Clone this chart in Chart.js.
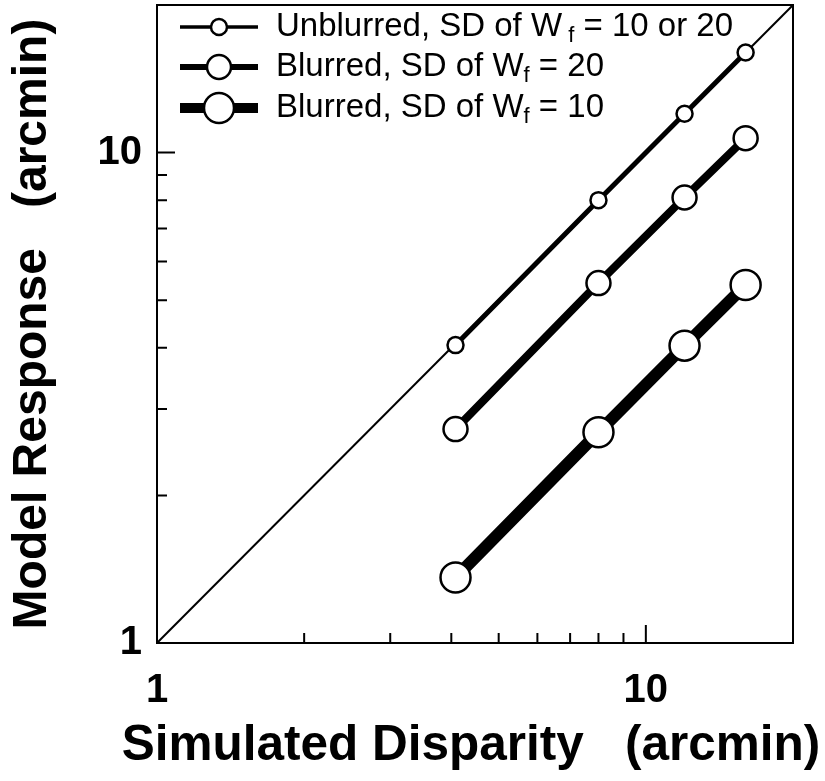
<!DOCTYPE html>
<html><head><meta charset="utf-8">
<script src="https://cdn.jsdelivr.net/npm/chart.js@4"></script>
<style>html,body{margin:0;padding:0;background:#fff}#wrap{width:825px;height:781px}</style>
</head><body><div id="wrap"><canvas id="c" width="825" height="781"></canvas></div>
<script>
// ---- data ----
const disparity = [4.08, 8, 12, 16];
const unblurred = [4.05, 8, 12, 16];
const blurred20 = [2.73, 5.42, 8.1, 10.7];
const blurred10 = [1.36, 2.69, 4.04, 5.37];
const identityX = [1, 20];
const identityY = [1, 20];
const tickLabelValues = [1, 10];
const minorTickValues = [2, 3, 4, 5, 6, 7, 8, 9];
const majorTickValues = [10];
const legendParts = [
  ['Unblurred, SD of W', ' f', ' = 10 or 20'],
  ['Blurred, SD of W', 'f', ' = 20'],
  ['Blurred, SD of W', 'f', ' = 10']
];
const xTitle = 'Simulated Disparity   (arcmin)';
const yTitle = 'Model Response   (arcmin)';

const pts = (xs, ys) => xs.map((x, i) => ({x: x, y: ys[i]}));

const FONT = '"Liberation Sans", Arial, Helvetica, sans-serif';

const boxTicksLegend = {
  id: 'boxTicksLegend',
  afterDatasetsDraw(chart) {
    const ctx = chart.ctx, a = chart.chartArea;
    const xs = chart.scales.x, ys = chart.scales.y;
    ctx.save();
    ctx.strokeStyle = '#000';
    ctx.lineWidth = 2;
    ctx.strokeRect(a.left, a.top, a.right - a.left, a.bottom - a.top);
    ctx.beginPath();
    const tick = (v, len) => {
      const px = xs.getPixelForValue(v);
      ctx.moveTo(px, a.bottom); ctx.lineTo(px, a.bottom - len);
      const py = ys.getPixelForValue(v);
      ctx.moveTo(a.left, py); ctx.lineTo(a.left + len, py);
    };
    minorTickValues.forEach(v => tick(v, 10));
    majorTickValues.forEach(v => tick(v, 18));
    ctx.stroke();

    // legend
    const rowY = [27, 67, 108];
    const legendLineW = [3.5, 6, 10];
    const ds = chart.data.datasets.slice(0, 3);
    ds.forEach((d, i) => {
      const y = rowY[i];
      ctx.beginPath();
      ctx.lineWidth = legendLineW[i];
      ctx.moveTo(180, y); ctx.lineTo(258, y);
      ctx.stroke();
      ctx.beginPath();
      ctx.arc(219, y, d.pointRadius, 0, Math.PI * 2);
      ctx.fillStyle = '#fff';
      ctx.fill();
      ctx.lineWidth = d.pointBorderWidth;
      ctx.stroke();
      const p = legendParts[i];
      ctx.fillStyle = '#000';
      ctx.textBaseline = 'middle';
      ctx.textAlign = 'left';
      ctx.font = '33px ' + FONT;
      let x = 276;
      ctx.fillText(p[0], x, y);
      x += ctx.measureText(p[0]).width;
      ctx.font = '22px ' + FONT;
      ctx.fillText(p[1], x, y + 9);
      x += ctx.measureText(p[1]).width;
      ctx.font = '33px ' + FONT;
      ctx.fillText(p[2], x, y);
    });

    // x axis title (drawn here so it is not squeezed to the plot width)
    ctx.font = 'bold 49.5px ' + FONT;
    ctx.fillStyle = '#000';
    ctx.textAlign = 'center';
    ctx.textBaseline = 'middle';
    ctx.fillText(xTitle, 471, 746);
    ctx.restore();
  }
};

new Chart(document.getElementById('c'), {
  type: 'scatter',
  data: {
    datasets: [
      {label: 'Unblurred', data: pts(disparity, unblurred), showLine: true,
       borderColor: '#000', borderWidth: 5, pointRadius: 8, pointBorderWidth: 2.5,
       pointBackgroundColor: '#fff', pointBorderColor: '#000'},
      {label: 'Blurred 20', data: pts(disparity, blurred20), showLine: true,
       borderColor: '#000', borderWidth: 8, pointRadius: 12, pointBorderWidth: 2.5,
       pointBackgroundColor: '#fff', pointBorderColor: '#000'},
      {label: 'Blurred 10', data: pts(disparity, blurred10), showLine: true,
       borderColor: '#000', borderWidth: 12, pointRadius: 15, pointBorderWidth: 2.5,
       pointBackgroundColor: '#fff', pointBorderColor: '#000'},
      {label: 'Identity', data: pts(identityX, identityY), showLine: true,
       borderColor: '#000', borderWidth: 2, pointRadius: 0}
    ]
  },
  options: {
    responsive: false,
    animation: false,
    devicePixelRatio: 1,
    layout: {autoPadding: false, padding: {left: 0, right: 32, top: 5, bottom: 0}},
    plugins: {legend: {display: false}, tooltip: {enabled: false}},
    scales: {
      x: {
        type: 'logarithmic', min: 1, max: 20, position: 'bottom',
        grid: {display: false, drawTicks: false},
        border: {display: true, color: '#000', width: 2},
        afterBuildTicks: s => { s.ticks = tickLabelValues.map(v => ({value: v})); },
        afterFit: s => { s.height = 138; s.paddingLeft = 0; s.paddingRight = 0; },
        ticks: {color: '#000', font: {family: FONT, size: 40, weight: 'bold'}, padding: 24,
                autoSkip: false, maxRotation: 0, callback: v => String(v)},
        title: {display: false, text: xTitle}
      },
      y: {
        type: 'logarithmic', min: 1, max: 20, position: 'left',
        grid: {display: false, drawTicks: false},
        border: {display: true, color: '#000', width: 2},
        afterBuildTicks: s => { s.ticks = tickLabelValues.map(v => ({value: v})); },
        afterFit: s => { s.width = 157; s.paddingTop = 0; s.paddingBottom = 0; },
        ticks: {color: '#000', font: {family: FONT, size: 40, weight: 'bold'}, padding: 15,
                autoSkip: false, callback: v => String(v)},
        title: {display: true, text: yTitle, color: '#000',
                font: {family: FONT, size: 48, weight: 'bold'}, padding: {top: 4, bottom: 0}}
      }
    }
  },
  plugins: [boxTicksLegend]
});
</script></body></html>
